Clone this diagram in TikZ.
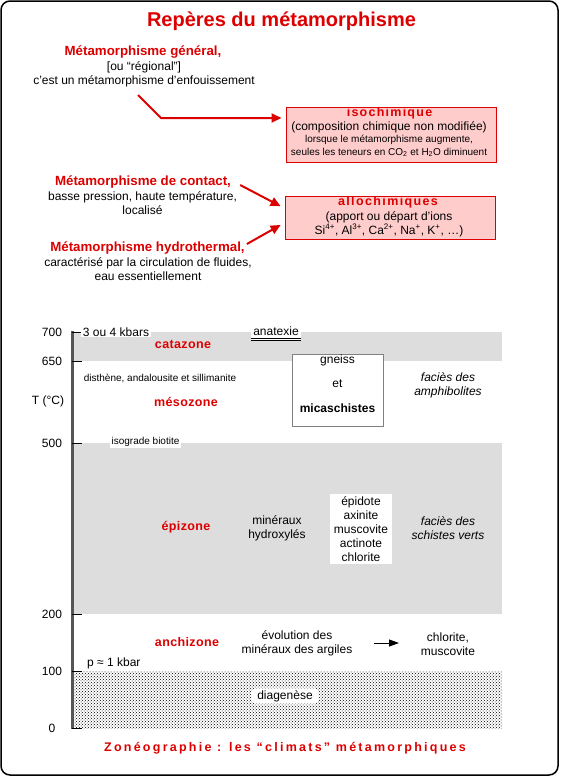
\documentclass[tikz,border=0pt]{standalone}
\usepackage{fontspec}
\setmainfont{Liberation Sans}
\usetikzlibrary{arrows.meta, patterns, positioning}
\definecolor{zonered}{RGB}{221, 0, 0}
\definecolor{boxpink}{RGB}{255, 204, 204}
\definecolor{bandgray}{RGB}{221, 221, 221}
\definecolor{axisgray}{RGB}{85, 85, 85}
\tikzset{
    redhead/.style={font=\bfseries\fontsize{13.3}{15}\selectfont, text=zonered, inner sep=0pt},
    zonelabel/.style={font=\bfseries\fontsize{12.5}{14}\selectfont\addfontfeatures{LetterSpace=3}, text=zonered, inner sep=0pt},
    plaintext/.style={font=\fontsize{12}{14}\selectfont, align=center, inner sep=0pt},
    smalltext/.style={font=\fontsize{10}{13}\selectfont, align=center, inner sep=0pt},
    faciestext/.style={font=\itshape\fontsize{12}{14}\selectfont, align=center, inner sep=0pt},
    whitetag/.style={fill=white, inner xsep=2pt, inner ysep=1pt},
    chembox/.style={draw=zonered, fill=boxpink, line width=1pt, minimum width=210pt, align=center, inner sep=0pt},
    redarrow/.style={-{Triangle[length=10pt, width=9pt]}, line width=2pt, draw=zonered},
    tick/.style={draw=black, line width=1pt},
}
\begin{document}
\begin{tikzpicture}[x=1pt, y=-1pt]
    \useasboundingbox (0,0) rectangle (560,777);
    \draw[line width=1.5pt, rounded corners=9pt] (1,1) rectangle (558,775);

    % title and the three kinds of metamorphism
    \node[font=\bfseries\fontsize{20}{22}\selectfont, text=zonered] (title) at (281.5,21) {Repères du métamorphisme};

    \node[redhead] (gen) at (143,52) {Métamorphisme général,};
    \node[plaintext] (gentxt) at (144,74) {[ou “régional”]\\c’est un métamorphisme d’enfouissement};

    \node[chembox, minimum height=55pt] (iso) at (391,134.5) {};
    \node[font=\bfseries\fontsize{12.5}{14}\selectfont\addfontfeatures{LetterSpace=10}, text=zonered] (isot) at (389.5,113) {isochimique};
    \node[plaintext] (isoa) at (389,127.5) {(composition chimique non modifiée)};
    \node[smalltext] (isob) at (389,146) {lorsque le métamorphisme augmente,\\seules les teneurs en CO\textsubscript{2} et H\textsubscript{2}O diminuent};

    \node[redhead] (cont) at (143,182) {Métamorphisme de contact,};
    \node[plaintext] (conttxt) at (142.5,203) {basse pression, haute température,\\localisé};

    \node[chembox, minimum height=43pt] (allo) at (390.5,217.5) {};
    \node[font=\bfseries\fontsize{12.5}{14}\selectfont\addfontfeatures{LetterSpace=11}, text=zonered] (allot) at (388,202) {allochimiques};
    \node[plaintext] (allotxt) at (389,224) {(apport ou départ d’ions\\Si\textsuperscript{4+}, Al\textsuperscript{3+}, Ca\textsuperscript{2+}, Na\textsuperscript{+}, K\textsuperscript{+}, …)};

    \node[redhead] (hydro) at (147.5,248) {Métamorphisme hydrothermal,};
    \node[plaintext] (hydrotxt) at (148,269) {caractérisé par la circulation de fluides,\\eau essentiellement};

    \coordinate (genstart) at (138,95);
    \coordinate (genbend) at (161,118);
    \draw[redarrow, shorten >=4pt] (genstart) -- (genbend) -- (iso.west |- genbend);
    \draw[redarrow, shorten >=5pt] ([xshift=9pt, yshift=-3pt]cont.east) -- ([yshift=9pt]allo.west);
    \draw[redarrow, shorten >=5pt] ([xshift=2pt, yshift=4pt]hydro.east) -- ([yshift=-5pt]allo.west);

    % zoneography chart
    \fill[bandgray] (72,332) rectangle (502,361);
    \fill[bandgray] (72,443) rectangle (502,614);
    \fill[pattern=crosshatch dots, pattern color=black] (72,671) rectangle (502,728);
    \draw[axisgray, line width=3pt] (72,331) -- (72,729);
    \foreach \val/\ypos in {700/332, 650/361, 500/443, 200/614, 100/671, 0/728} {
        \draw[tick] (72,\ypos) -- (82,\ypos);
        \node[plaintext] at (52,\ypos) {\val};
    }
    \node[plaintext] (tlabel) at (48,401) {T (°C)};

    \node[plaintext, whitetag] (kbars) at (116,332) {3 ou 4 kbars};
    \node[plaintext, whitetag, inner ysep=5pt] (anat) at (276,331) {anatexie};
    \draw ([xshift=-25pt, yshift=-2.5pt]anat.base) -- ([xshift=25pt, yshift=-2.5pt]anat.base);
    \draw ([xshift=-25pt, yshift=-4.5pt]anat.base) -- ([xshift=25pt, yshift=-4.5pt]anat.base);
    \node[zonelabel] (cata) at (183,344) {catazone};

    \node[smalltext] (disth) at (160,378) {disthène, andalousite et sillimanite};
    \node[zonelabel] (meso) at (186,402) {mésozone};
    \node[draw=gray, fill=white, minimum width=91pt, minimum height=72pt] (gneissbox) at (337.5,390) {};
    \node[plaintext] (gneiss) at (337.5,360) {gneiss};
    \node[plaintext] (et) at (337.5,384) {et};
    \node[plaintext, font=\bfseries\fontsize{12}{14}\selectfont] (mica) at (337.5,408) {micaschistes};
    \node[faciestext] (amphi) at (448,385) {faciès des\\amphibolites};

    \node[smalltext, whitetag] (biot) at (145.5,442) {isograde biotite};
    \node[zonelabel] (epi) at (186,527) {épizone};
    \node[plaintext] (hydrox) at (277,528) {minéraux\\hydroxylés};
    \node[plaintext, fill=white, minimum width=62pt, minimum height=70pt] (minlist) at (361,529) {épidote\\axinite\\muscovite\\actinote\\chlorite};
    \node[faciestext] (schist) at (448,528) {faciès des\\schistes verts};

    \node[zonelabel] (anchi) at (187,642) {anchizone};
    \node[plaintext] (evol) at (297,643) {évolution des\\minéraux des argiles};
    \node[plaintext] (chlmus) at (448,644) {chlorite,\\muscovite};
    \coordinate (evolout) at (374,643);
    \coordinate (chlin) at (399,643);
    \draw[-{Triangle[length=10pt, width=7pt]}, line width=1pt] (evolout) -- (chlin);
    \node[plaintext, anchor=west] (pkbar) at (87,663) {p ≈ 1 kbar};
    \node[plaintext, fill=white, inner xsep=6pt, inner ysep=2pt, rounded corners=4pt] (diag) at (285,696) {diagenèse};

    \node[font=\bfseries\fontsize{12.5}{14}\selectfont\addfontfeatures{LetterSpace=18}, text=zonered] (caption) at (285,748) {Zonéographie : les “climats” métamorphiques};
\end{tikzpicture}
\end{document}
